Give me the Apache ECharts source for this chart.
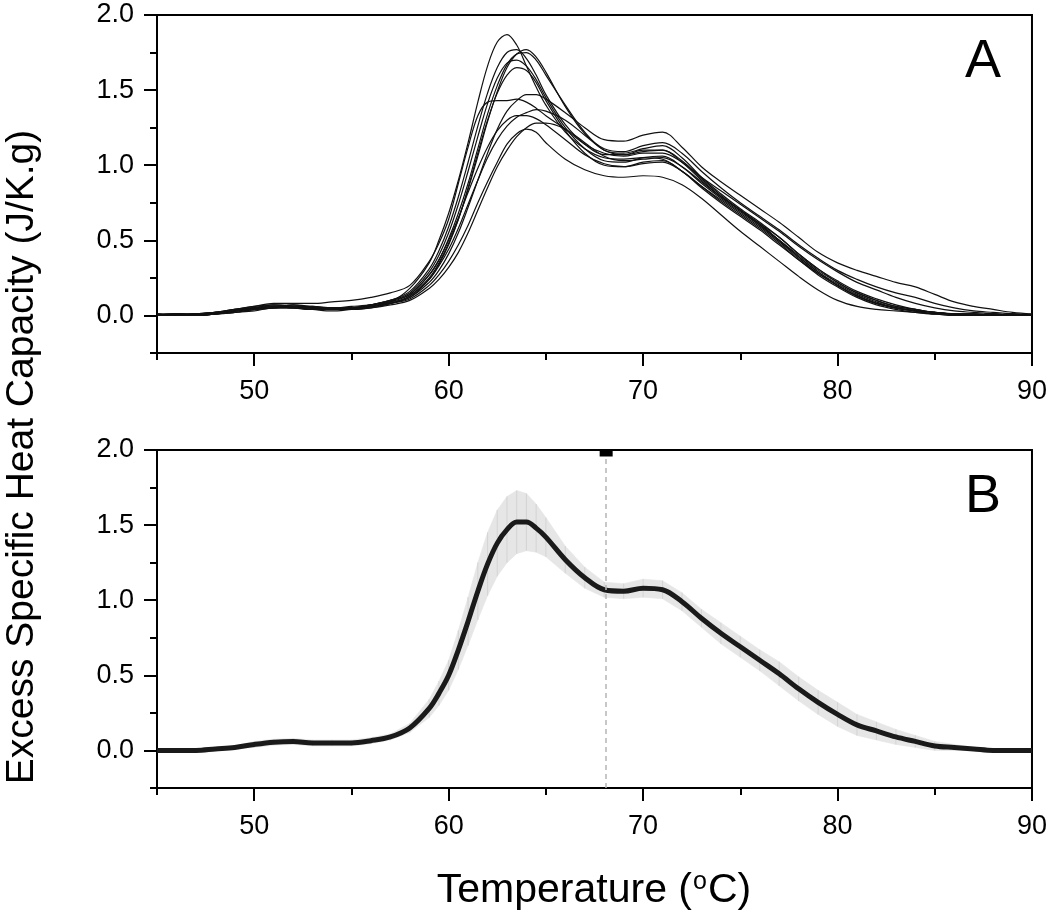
<!DOCTYPE html>
<html>
<head>
<meta charset="utf-8">
<script src="https://cdn.jsdelivr.net/npm/echarts@6/dist/echarts.min.js"></script>
<style>
html,body{margin:0;padding:0;background:#fff;}
#chart{width:1050px;height:916px;}
</style>
</head>
<body>
<div id="chart"></div>
<script>
// ---- data ----
const temps = [45,46,47,48,49,50,51,52,53,54,55,56,57,58,59,59.5,60,60.5,61,61.5,62,62.5,63,63.5,64,64.5,65,66,67,68,69,70,71,72,73,74,75,76,77,78,79,80,81,82,83,84,85,86,87,88,89,90];

const run1 = [0.00,0.00,0.01,0.02,0.03,0.05,0.06,0.06,0.05,0.04,0.05,0.06,0.09, 0.18,0.35,0.50,0.68,0.90,1.15,1.42,1.66,1.82,1.87,1.80,1.66,1.52,1.40, 1.22,1.11,1.05,1.04,1.05,1.04,0.96,0.86,0.77,0.68,0.59,0.49,0.38,0.28,0.20,0.13,0.08,0.05,0.03,0.02,0.01,0.01,0.00,0.01,0.00];
const run2 = [0.01,0.00,0.00,0.01,0.03,0.04,0.05,0.07,0.06,0.05,0.05,0.07,0.10, 0.16,0.31,0.43,0.59,0.79,1.02,1.26,1.48,1.65,1.75,1.77,1.71,1.60,1.47, 1.27,1.14,1.07,1.07,1.10,1.10,1.02,0.90,0.79,0.70,0.61,0.50,0.39,0.29,0.21,0.14,0.09,0.05,0.03,0.02,0.01,0.00,0.01,0.00,0.00];
const run3 = [0.00,0.01,0.00,0.02,0.04,0.06,0.07,0.06,0.04,0.04,0.04,0.06,0.08, 0.13,0.25,0.35,0.48,0.64,0.84,1.06,1.29,1.49,1.65,1.74,1.77,1.72,1.62, 1.39,1.21,1.11,1.09,1.13,1.15,1.08,0.96,0.85,0.75,0.66,0.57,0.47,0.38,0.30,0.24,0.19,0.15,0.12,0.08,0.05,0.03,0.02,0.01,0.00];
const run4 = [0.00,0.01,0.01,0.01,0.02,0.04,0.06,0.05,0.05,0.05,0.04,0.06,0.09, 0.14,0.27,0.37,0.51,0.68,0.88,1.11,1.34,1.53,1.67,1.74,1.75,1.70,1.60, 1.40,1.22,1.10,1.08,1.11,1.13,1.05,0.92,0.81,0.71,0.62,0.52,0.41,0.31,0.22,0.15,0.10,0.06,0.04,0.02,0.01,0.01,0.00,0.00,0.00];
const run5 = [0.01,0.00,0.01,0.02,0.03,0.05,0.06,0.07,0.05,0.04,0.05,0.07,0.10, 0.15,0.29,0.40,0.55,0.74,0.96,1.19,1.41,1.58,1.68,1.70,1.66,1.57,1.45, 1.25,1.11,1.03,1.02,1.05,1.06,0.99,0.88,0.78,0.69,0.60,0.50,0.39,0.29,0.20,0.13,0.08,0.05,0.03,0.01,0.01,0.00,0.00,0.01,0.00];
const run6 = [0.00,0.00,0.00,0.01,0.03,0.05,0.07,0.06,0.05,0.04,0.04,0.05,0.08, 0.12,0.24,0.34,0.47,0.64,0.85,1.08,1.30,1.48,1.60,1.65,1.63,1.55,1.43, 1.23,1.08,1.00,0.99,1.02,1.03,0.96,0.85,0.75,0.66,0.57,0.47,0.37,0.27,0.19,0.12,0.07,0.04,0.02,0.01,0.00,0.00,0.01,0.00,0.00];
const run7 = [0.00,0.01,0.01,0.02,0.04,0.05,0.06,0.06,0.06,0.05,0.06,0.07,0.09, 0.12,0.22,0.30,0.41,0.55,0.72,0.90,1.08,1.24,1.36,1.43,1.47,1.47,1.44, 1.35,1.25,1.17,1.16,1.20,1.22,1.12,0.99,0.89,0.80,0.71,0.62,0.52,0.42,0.35,0.30,0.26,0.22,0.19,0.14,0.09,0.06,0.04,0.02,0.01];
const run8 = [0.00,0.00,0.01,0.02,0.04,0.06,0.08,0.08,0.08,0.09,0.10,0.12,0.15, 0.20,0.36,0.48,0.64,0.88,1.12,1.33,1.42,1.43,1.43,1.44,1.42,1.38,1.33, 1.24,1.14,1.08,1.06,1.08,1.08,1.02,0.92,0.83,0.74,0.65,0.56,0.46,0.37,0.29,0.22,0.17,0.12,0.08,0.05,0.03,0.02,0.01,0.00,0.00];
const run9 = [0.01,0.01,0.00,0.01,0.02,0.04,0.05,0.06,0.05,0.05,0.05,0.06,0.08, 0.13,0.24,0.33,0.44,0.58,0.74,0.90,1.05,1.17,1.26,1.32,1.35,1.37,1.36, 1.30,1.20,1.10,1.07,1.09,1.10,1.03,0.91,0.80,0.70,0.61,0.52,0.41,0.31,0.23,0.16,0.11,0.07,0.04,0.02,0.01,0.00,0.01,0.00,0.00];
const run10 = [0.00,0.00,0.01,0.01,0.03,0.05,0.06,0.05,0.04,0.04,0.05,0.07,0.10, 0.14,0.27,0.37,0.50,0.65,0.82,0.98,1.12,1.23,1.30,1.33,1.33,1.31,1.27, 1.17,1.07,1.01,0.99,1.01,1.02,0.96,0.86,0.76,0.67,0.58,0.48,0.37,0.28,0.20,0.13,0.08,0.05,0.03,0.01,0.01,0.00,0.00,0.00,0.00];
const run11 = [0.00,0.01,0.00,0.01,0.02,0.03,0.05,0.05,0.04,0.03,0.04,0.05,0.07, 0.10,0.18,0.24,0.32,0.42,0.55,0.70,0.85,0.99,1.10,1.19,1.25,1.28,1.28, 1.24,1.15,1.06,1.03,1.04,1.05,0.99,0.89,0.79,0.70,0.60,0.50,0.40,0.30,0.22,0.15,0.10,0.06,0.04,0.02,0.01,0.01,0.00,0.00,0.00];
const run12 = [0.00,0.00,0.00,0.01,0.03,0.04,0.05,0.05,0.04,0.04,0.04,0.06,0.08, 0.11,0.20,0.27,0.36,0.47,0.60,0.75,0.89,1.02,1.14,1.21,1.24,1.22,1.15, 1.04,0.97,0.93,0.92,0.93,0.92,0.87,0.78,0.67,0.56,0.46,0.36,0.26,0.17,0.10,0.06,0.04,0.03,0.02,0.01,0.01,0.00,0.00,0.00,0.00];

const meanB = [0.00,0.00,0.00,0.01,0.02,0.04,0.055,0.06,0.05,0.05,0.05,0.065,0.09, 0.15,0.28,0.38,0.50,0.67,0.86,1.06,1.24,1.38,1.47,1.52,1.52,1.48,1.42, 1.27,1.15,1.07,1.06,1.08,1.07,0.99,0.88,0.78,0.69,0.60,0.51,0.41,0.32,0.24,0.17,0.13,0.09,0.06,0.03,0.02,0.01,0.00,0.00,0.00];
const sdB = [0.01,0.01,0.01,0.01,0.01,0.02,0.02,0.02,0.02,0.02,0.02,0.02,0.02, 0.03,0.06,0.08,0.10,0.13,0.16,0.19,0.21,0.22,0.22,0.21,0.19,0.16,0.13, 0.09,0.07,0.05,0.05,0.06,0.06,0.06,0.06,0.07,0.07,0.07,0.08,0.08,0.08,0.08,0.07,0.06,0.05,0.04,0.03,0.02,0.01,0.01,0.01,0.01];

const xMajorTicks = [50,60,70,80,90];
const yMajorTicks = [0,0.5,1.0,1.5,2.0];
const markerTemp = 68.1;
const panelLabels = ['A','B'];
const yTitle = 'Excess Specific Heat Capacity (J/K.g)';
const xTitle = 'Temperature ({s|o}C)';

// ---- chart ----
const runs = [run1,run2,run3,run4,run5,run6,run7,run8,run9,run10,run11,run12];
const FONT = '"Liberation Sans", Arial, sans-serif';
const grids = [
  {left:157, top:15, width:876, height:338},
  {left:157, top:450, width:876, height:338}
];
function pairs(arr){ return temps.map((t,i)=>[t, arr[i]]); }

const xAxes = [], yAxes = [];
grids.forEach((g, gi) => {
  xAxes.push({
    type:'value', gridIndex:gi, min:45, max:90, interval:5,
    axisLine:{show:true, onZero:false, lineStyle:{color:'#000', width:2}},
    axisTick:{show:true, inside:false, length:7, lineStyle:{color:'#000', width:2}},
    axisLabel:{show:true, margin:25, color:'#000', fontSize:27, fontFamily:FONT,
      formatter: v => (Math.round(v) % 10 === 0 ? String(Math.round(v)) : '')},
    splitLine:{show:false}
  });
  xAxes.push({
    type:'value', gridIndex:gi, min:45, max:90, position:'bottom',
    axisLine:{show:false, onZero:false},
    axisTick:{show:true, length:13, customValues:xMajorTicks, lineStyle:{color:'#000', width:2}},
    axisLabel:{show:false},
    splitLine:{show:false}
  });
  yAxes.push({
    type:'value', gridIndex:gi, min:-0.25, max:2.0, interval:0.25,
    axisLine:{show:true, onZero:false, lineStyle:{color:'#000', width:2}},
    axisTick:{show:true, length:7, lineStyle:{color:'#000', width:2}},
    axisLabel:{show:true, margin:23, color:'#000', fontSize:27, fontFamily:FONT,
      formatter: v => (Math.abs(v*2 - Math.round(v*2)) < 1e-6 ? v.toFixed(1) : '')},
    splitLine:{show:false}
  });
  yAxes.push({
    type:'value', gridIndex:gi, min:-0.25, max:2.0, position:'left',
    axisLine:{show:false, onZero:false},
    axisTick:{show:true, length:13, customValues:yMajorTicks, lineStyle:{color:'#000', width:2}},
    axisLabel:{show:false},
    splitLine:{show:false}
  });
});

const series = [];
runs.forEach((r) => {
  series.push({
    type:'line', xAxisIndex:0, yAxisIndex:0, data:pairs(r),
    showSymbol:false, smooth:0.35, silent:true,
    lineStyle:{color:'#111', width:1.2}, z:3
  });
});
// Panel B error band (mean ± sd), drawn as filled segments plus vertical error bars
series.push({
  type:'custom', xAxisIndex:2, yAxisIndex:2, silent:true, z:1, clip:true,
  data: temps.map((t,i)=>[t, meanB[i]-sdB[i], meanB[i]+sdB[i]]),
  encode:{x:0, y:[1,2]},
  renderItem: function(params, api){
    const i = params.dataIndexInside;
    const x0 = api.value(0, i), lo0 = api.value(1, i), hi0 = api.value(2, i);
    const a = api.coord([x0, lo0]), b = api.coord([x0, hi0]);
    const children = [{type:'line', shape:{x1:a[0], y1:a[1], x2:b[0], y2:b[1]}, style:{stroke:'#d4d4d4', lineWidth:1}}];
    if (i < params.dataInsideLength - 1) {
      const x1 = api.value(0, i+1), lo1 = api.value(1, i+1), hi1 = api.value(2, i+1);
      const c = api.coord([x1, hi1]), d = api.coord([x1, lo1]);
      children.unshift({type:'polygon', shape:{points:[a,b,c,d]}, style:{fill:'#e6e6e6', stroke:'#e6e6e6', lineWidth:0.6}});
    }
    return {type:'group', children:children};
  }
});
series.push({
  type:'line', xAxisIndex:2, yAxisIndex:2, data:pairs(meanB),
  showSymbol:false, smooth:0.35, silent:true,
  lineStyle:{color:'#1a1a1a', width:5}, z:4,
  markLine:{
    silent:true, symbol:['none','none'], label:{show:false},
    lineStyle:{color:'#b5b5b5', type:[5,4], width:1.5},
    data:[{xAxis:markerTemp}]
  },
  markPoint:{
    silent:true, symbol:'rect', symbolSize:[13,7], symbolOffset:[0,3],
    itemStyle:{color:'#000'}, label:{show:false},
    data:[{coord:[markerTemp, 2.0]}]
  }
});

const option = {
  animation:false,
  backgroundColor:'#fff',
  grid: grids.map(g => Object.assign({show:true, borderColor:'#000', borderWidth:2, backgroundColor:'transparent', containLabel:false}, g)),
  xAxis:xAxes,
  yAxis:yAxes,
  series:series,
  graphic:[
    {type:'text', x:983, y:62, style:{text:panelLabels[0], font:'54px '+FONT, fill:'#000', align:'center', verticalAlign:'middle'}},
    {type:'text', x:983, y:497, style:{text:panelLabels[1], font:'54px '+FONT, fill:'#000', align:'center', verticalAlign:'middle'}},
    {type:'text', x:22, y:457, rotation:Math.PI/2, style:{text:yTitle, font:'39px '+FONT, fill:'#000', align:'center', verticalAlign:'middle'}},
    {type:'text', x:594, y:891, style:{text:xTitle, font:'41px '+FONT, fill:'#000', align:'center', verticalAlign:'middle',
      rich:{s:{fontSize:25, fontFamily:FONT, verticalAlign:'top', lineHeight:42, padding:[0,1,0,1]}}}}
  ]
};
const chart = echarts.init(document.getElementById('chart'), null, {renderer:'canvas'});
chart.setOption(option);
</script>
</body>
</html>
